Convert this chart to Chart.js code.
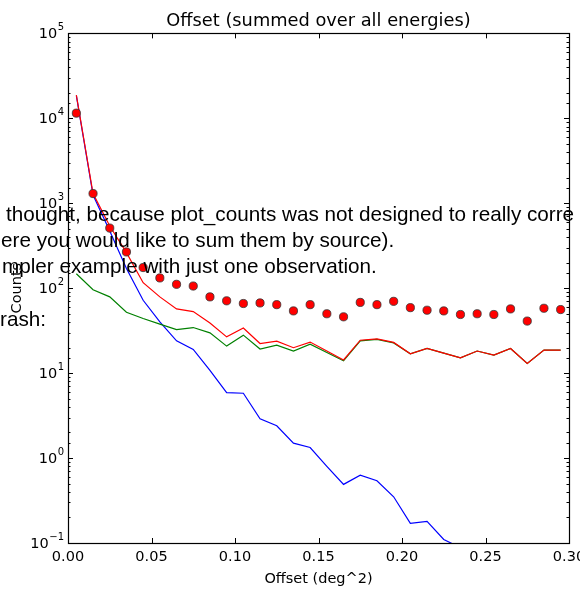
<!DOCTYPE html>
<html>
<head>
<meta charset="utf-8">
<script src="https://cdn.jsdelivr.net/npm/chart.js@4.4.1/dist/chart.umd.min.js"></script>
<style>
  html, body { margin: 0; padding: 0; background: #fff; width: 580px; height: 591px; overflow: hidden; }
  #wrap { position: relative; width: 580px; height: 591px; }
  canvas { position: absolute; left: 0; top: 0; }
  .pg { position: absolute; font-family: "Liberation Sans", Arial, sans-serif; font-size: 20.7px; line-height: 24px; color: #000; white-space: nowrap; z-index: 2; }
</style>
</head>
<body>
<div id="wrap">
  <canvas id="c" width="580" height="591"></canvas>
  <div class="pg" style="left:6px; top:201.5px;">thought, because plot_counts was not designed to really corre</div>
  <div class="pg" style="left:1px; top:228px;">ere you would like to sum them by source).</div>
  <div class="pg" style="left:2px; top:254px;">mpler example with just one observation.</div>
  <div class="pg" style="left:0px; top:306.5px;">rash:</div>
</div>
<script>
// ---- data ----
const offsetBins = [0.005, 0.015, 0.025, 0.035, 0.045, 0.055, 0.065, 0.075, 0.085, 0.095,
                    0.105, 0.115, 0.125, 0.135, 0.145, 0.155, 0.165, 0.175, 0.185, 0.195,
                    0.205, 0.215, 0.225, 0.235, 0.245, 0.255, 0.265, 0.275, 0.285, 0.295];
const countsObserved = [11500, 1300, 510, 267, 175, 132, 111, 106, 79, 71,
                        66, 67, 64, 54, 64, 50, 46, 68, 64, 70,
                        59, 55, 54, 49, 50, 49, 57, 41, 58, 56];
const countsExcess = [18500, 1250, 470, 170, 72, 40, 24, 19, 10.8, 5.9,
                      5.8, 2.9, 2.4, 1.5, 1.33, 0.8, 0.49, 0.63, 0.54, 0.35,
                      0.17, 0.18, 0.11, 0.088, null, null, null, null, null, null];
const countsBackground = [148, 96, 79, 52, 44, 37.7, 32.6, 34.4, 29.8, 20.8,
                          28, 19.2, 21.3, 18.2, 21.9, 17.5, 14, 24, 24.9, 22.7,
                          16.9, 19.5, 17.2, 15.1, 18.2, 16.3, 19.5, 13, 18.7, 18.7];
const countsTotal = [18700, 1300, 540, 262, 116, 79, 57, 53, 39, 26.7,
                     34, 22.3, 23.8, 19.9, 23.2, 18.2, 14.3, 24.4, 25.3, 23,
                     16.9, 19.5, 17.2, 15.1, 18.2, 16.3, 19.5, 13, 18.7, 18.7];
const xTickValues = [0.00, 0.05, 0.10, 0.15, 0.20, 0.25, 0.30];
const yTickBase = '10';
const yTickExponents = {'-1': '\u22121', '0': '0', '1': '1', '2': '2', '3': '3', '4': '4', '5': '5'};

const pts = (arr) => offsetBins.map((x, i) => ({x: x, y: arr[i]}));
const isPow10 = (v) => Math.abs(Math.log10(v) - Math.round(Math.log10(v))) < 1e-9;

const framePlugin = {
  id: 'frame',
  afterDraw(chart) {
    const {ctx, chartArea: a, scales} = chart;
    ctx.save();
    ctx.strokeStyle = '#000';
    ctx.lineWidth = 1;
    // y ticks inside left/right + power-of-ten labels
    scales.y.ticks.forEach(t => {
      const yp = scales.y.getPixelForValue(t.value);
      const y = Math.round(yp) + 0.5;
      const major = isPow10(t.value);
      const len = major ? 5 : 2.5;
      ctx.beginPath();
      ctx.moveTo(a.left, y); ctx.lineTo(a.left + len, y);
      ctx.moveTo(a.right, y); ctx.lineTo(a.right - len, y);
      ctx.stroke();
      if (major) {
        const e = yTickExponents[String(Math.round(Math.log10(t.value)))];
        ctx.fillStyle = '#000';
        ctx.font = '10px "DejaVu Sans"';
        const ew = ctx.measureText(e).width;
        const right = a.left - 4;
        ctx.textAlign = 'left';
        ctx.textBaseline = 'middle';
        ctx.fillText(e, right - ew, yp - 6);
        ctx.font = '14.5px "DejaVu Sans"';
        ctx.textAlign = 'right';
        ctx.fillText(yTickBase, right - ew - 0.5, yp + 1);
      }
    });
    scales.x.ticks.forEach(t => {
      const x = Math.round(scales.x.getPixelForValue(t.value)) + 0.5;
      ctx.beginPath();
      ctx.moveTo(x, a.bottom); ctx.lineTo(x, a.bottom - 5);
      ctx.moveTo(x, a.top); ctx.lineTo(x, a.top + 5);
      ctx.stroke();
    });
    ctx.lineWidth = 1.2;
    ctx.strokeRect(Math.round(a.left) + 0.5, Math.round(a.top) + 0.5,
                   Math.round(a.right) - Math.round(a.left), Math.round(a.bottom) - Math.round(a.top));
    ctx.restore();
  }
};

const tickFont = {family: 'DejaVu Sans', size: 14.5};

new Chart(document.getElementById('c'), {
  type: 'line',
  data: {
    datasets: [
      {label: 'Excess', data: pts(countsExcess), borderColor: '#0000ff', borderWidth: 1.2,
       pointRadius: 0, tension: 0, fill: false, spanGaps: false, order: 4},
      {label: 'Background', data: pts(countsBackground), borderColor: '#008000', borderWidth: 1.2,
       pointRadius: 0, tension: 0, fill: false, order: 3},
      {label: 'Total', data: pts(countsTotal), borderColor: '#ff0000', borderWidth: 1.2,
       pointRadius: 0, tension: 0, fill: false, order: 2},
      {label: 'Observed', data: pts(countsObserved), showLine: false,
       pointRadius: 4.1, pointBackgroundColor: '#ff0000', pointBorderColor: '#333333',
       pointBorderWidth: 0.8, order: 1}
    ]
  },
  options: {
    responsive: false,
    animation: false,
    devicePixelRatio: 1,
    layout: {padding: {left: 0, right: 11, top: 0, bottom: 0}},
    plugins: {
      legend: {display: false},
      tooltip: {enabled: false},
      title: {
        display: true, text: 'Offset (summed over all energies)', color: '#000', fullSize: false,
        font: {family: 'DejaVu Sans', size: 17.8, weight: 'normal', lineHeight: 1.2},
        padding: {top: 11, bottom: 1}
      }
    },
    scales: {
      x: {
        type: 'linear', min: 0, max: 0.30,
        grid: {display: false, drawTicks: false},
        border: {display: false},
        afterBuildTicks: (s) => { s.ticks = xTickValues.map(v => ({value: v})); },
        afterFit: (s) => { s.height = 48; s.paddingLeft = 0; s.paddingRight = 0; },
        ticks: {color: '#000', font: tickFont, padding: 6, maxRotation: 0, minRotation: 0,
                autoSkip: false, callback: (v) => Number(v).toFixed(2)},
        title: {display: true, text: 'Offset (deg^2)', color: '#000',
                font: {family: 'DejaVu Sans', size: 14.5, lineHeight: 1.2}, padding: {top: 0, bottom: 3}}
      },
      y: {
        type: 'logarithmic', min: 0.1, max: 100000,
        grid: {display: false, drawTicks: false},
        border: {display: false},
        afterFit: (s) => { s.width = 68; s.paddingTop = 0; s.paddingBottom = 0; },
        ticks: {display: false, autoSkip: false},
        title: {display: true, text: 'Counts', color: '#000',
                font: {family: 'DejaVu Sans', size: 14.5, lineHeight: 1.2}, padding: {top: 9, bottom: 0}}
      }
    }
  },
  plugins: [framePlugin]
});
</script>
</body>
</html>
